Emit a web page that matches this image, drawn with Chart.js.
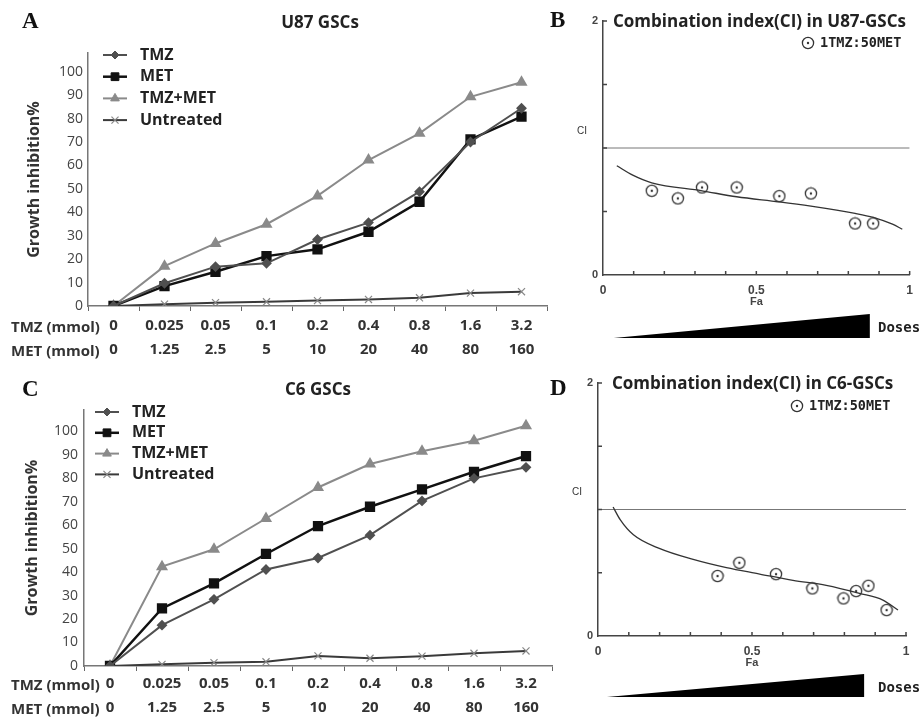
<!DOCTYPE html>
<html>
<head>
<meta charset="utf-8">
<script src="https://cdn.jsdelivr.net/npm/chart.js@4.4.0/dist/chart.umd.min.js"></script>
<style>
  body { margin: 0; background: #fff; }
  #wrap { position: relative; width: 921px; height: 720px; overflow: hidden; background: #fff; }
  canvas { position: absolute; }
  .t { position: absolute; white-space: nowrap; height: 24px; line-height: 24px; color: #222; font-family: "Open Sans", sans-serif; }
  .letter { font-family: "Liberation Serif", serif; font-weight: bold; font-size: 23px; color: #111; }
  .title { font-weight: bold; font-size: 17px; }
  .row { font-weight: bold; font-size: 15px; color: #333; }
  .ci { font-family: "Liberation Sans", sans-serif; font-size: 10px; color: #333; }
  .doses { font-family: "DejaVu Sans Mono", monospace; font-weight: bold; font-size: 14px; }
</style>
</head>
<body>
<div id="wrap">
  <canvas id="chartA" width="560" height="360" style="left:0;top:0"></canvas>
  <canvas id="chartB" width="361" height="360" style="left:560px;top:0"></canvas>
  <canvas id="chartC" width="560" height="360" style="left:0;top:360px"></canvas>
  <canvas id="chartD" width="361" height="360" style="left:560px;top:360px"></canvas>

  <div class="t letter" style="left:22px;top:9px">A</div>
  <div class="t title" style="left:320px;top:10px;transform:translateX(-50%)">U87 GSCs</div>
  <div class="t row" style="left:11px;top:314px">TMZ (mmol)</div>
  <div class="t row" style="left:11px;top:338px">MET (mmol)</div>

  <div class="t letter" style="left:550px;top:8px">B</div>
  <div class="t title" style="left:613px;top:9px">Combination index(CI) in U87-GSCs</div>
  <div class="t ci" style="left:577px;top:119px">CI</div>
  <div class="t doses" style="left:878px;top:315px">Doses</div>

  <div class="t letter" style="left:22px;top:377px">C</div>
  <div class="t title" style="left:318px;top:377px;transform:translateX(-50%)">C6 GSCs</div>
  <div class="t row" style="left:11px;top:672px">TMZ (mmol)</div>
  <div class="t row" style="left:11px;top:696px">MET (mmol)</div>

  <div class="t letter" style="left:550px;top:376px">D</div>
  <div class="t title" style="left:612px;top:371px">Combination index(CI) in C6-GSCs</div>
  <div class="t ci" style="left:572px;top:480px">CI</div>
  <div class="t doses" style="left:878px;top:675px">Doses</div>
</div>

<script>
// doses (x categories)
const tmzDose = ['0', '0.025', '0.05', '0.1', '0.2', '0.4', '0.8', '1.6', '3.2'];
const metDose = ['0', '1.25', '2.5', '5', '10', '20', '40', '80', '160'];

// U87 growth inhibition %
const u87Tmz = [0, 9.7, 16.8, 18.2, 28.4, 35.6, 48.8, 70, 84.4];
const u87Met = [0, 8.5, 14.6, 21.3, 24.2, 31.7, 44.5, 71.1, 80.8];
const u87Combo = [0, 17, 26.7, 34.9, 47, 62.3, 73.7, 89.3, 95.5];
const u87Untreated = [0, 0.8, 1.4, 1.8, 2.3, 2.8, 3.5, 5.5, 6.1];

// C6 growth inhibition %
const c6Tmz = [0, 17.4, 28.4, 41.1, 46, 55.7, 70.3, 79.9, 84.6];
const c6Met = [0, 24.5, 35.2, 47.7, 59.6, 67.8, 75.2, 82.7, 89.4];
const c6Combo = [0, 42.3, 49.7, 62.8, 76, 86, 91.4, 95.9, 102.3];
const c6Untreated = [0, 0.7, 1.4, 1.8, 4.3, 3.3, 4.2, 5.4, 6.4];

// combination index, U87
const u87Fa = [0.159, 0.244, 0.323, 0.436, 0.575, 0.678, 0.822, 0.881];
const u87CI = [0.663, 0.603, 0.689, 0.689, 0.621, 0.642, 0.406, 0.406];
const u87CurveFa = [0.045, 0.097, 0.159, 0.323, 0.436, 0.575, 0.678, 0.822, 0.881, 0.944, 0.976];
const u87CurveCI = [0.86, 0.786, 0.726, 0.663, 0.616, 0.576, 0.542, 0.485, 0.454, 0.40, 0.36];

// combination index, C6
const c6Fa = [0.388, 0.459, 0.578, 0.696, 0.797, 0.838, 0.878, 0.937];
const c6CI = [0.474, 0.579, 0.489, 0.376, 0.297, 0.355, 0.397, 0.205];
const c6CurveFa = [0.049, 0.072, 0.115, 0.201, 0.309, 0.417, 0.525, 0.633, 0.741, 0.849, 0.925, 0.974];
const c6CurveCI = [1.02, 0.92, 0.80, 0.69, 0.605, 0.54, 0.49, 0.44, 0.40, 0.337, 0.284, 0.205];

// CI = 1 reference
const refFa = [0, 1];
const refCI = [1, 1];

Chart.defaults.font.family = '"Open Sans"';
Chart.defaults.color = '#333';

const toXY = (xs, ys) => xs.map((x, i) => ({ x, y: ys[i] }));

// small ring with a dot, used as CI marker
function ringDot() {
    const c = document.createElement('canvas');
    c.width = 14; c.height = 14;
    const g = c.getContext('2d');
    g.strokeStyle = '#333';
    g.lineWidth = 1.3;
    g.beginPath(); g.arc(7, 7, 5.6, 0, Math.PI * 2); g.stroke();
    g.fillStyle = '#333';
    g.beginPath(); g.arc(7, 7, 1.2, 0, Math.PI * 2); g.fill();
    return c;
}
const ring = ringDot();

// legend drawn inside the plot area
const insideLegend = {
    id: 'insideLegend',
    afterDraw(chart, args, opts) {
        if (!opts || opts.x === undefined) return;
        const { ctx, chartArea } = chart;
        ctx.save();
        ctx.font = opts.font;
        ctx.textBaseline = 'middle';
        let row = 0;
        chart.data.datasets.forEach(ds => {
            if (!ds.label) return;
            const x = chartArea.left + opts.x;
            const y = chartArea.top + opts.y + row * (opts.rowHeight || 0);
            if (opts.line) {
                ctx.strokeStyle = ds.borderColor;
                ctx.lineWidth = ds.borderWidth;
                ctx.beginPath();
                ctx.moveTo(x, y);
                ctx.lineTo(x + opts.line, y);
                ctx.stroke();
            }
            ctx.fillStyle = ds.pointBackgroundColor || ds.borderColor;
            ctx.strokeStyle = ds.pointBorderColor || ds.borderColor;
            ctx.lineWidth = ds.pointBorderWidth || 1;
            Chart.helpers.drawPoint(ctx, {
                pointStyle: ds.pointStyle,
                radius: ds.pointRadius,
                borderWidth: ds.pointBorderWidth || 1,
                rotation: 0
            }, x + (opts.line || 0) / 2, y);
            ctx.fillStyle = opts.color || '#222';
            ctx.fillText(ds.label, x + opts.textX, y);
            row++;
        });
        ctx.restore();
    }
};

// inner tick marks and the dose wedge for the CI plots
const ciExtras = {
    id: 'ciExtras',
    afterDraw(chart, args, opts) {
        if (!opts || !opts.wedge) return;
        const { ctx, chartArea, scales } = chart;
        ctx.save();
        ctx.strokeStyle = '#444';
        ctx.lineWidth = 1.5;
        ctx.beginPath();
        for (let i = 1; i <= 10; i++) {
            const px = scales.x.getPixelForValue(i / 10);
            ctx.moveTo(px, chartArea.bottom);
            ctx.lineTo(px, chartArea.bottom - 4);
        }
        for (let i = 1; i <= 4; i++) {
            const py = scales.y.getPixelForValue(i * 0.5);
            ctx.moveTo(chartArea.left, py);
            ctx.lineTo(chartArea.left + 4, py);
        }
        ctx.stroke();

        const w = opts.wedge;
        const x0 = scales.x.getPixelForValue(w.from);
        const x1 = scales.x.getPixelForValue(w.to);
        ctx.fillStyle = '#000';
        ctx.beginPath();
        ctx.moveTo(x0, chartArea.bottom + w.bottom);
        ctx.lineTo(x1, chartArea.bottom + w.bottom);
        ctx.lineTo(x1, chartArea.bottom + w.top);
        ctx.closePath();
        ctx.fill();
        ctx.restore();
    }
};

function growthChart(id, series, yMax, box) {
    const [tmz, met, combo, untreated] = series;
    return new Chart(document.getElementById(id), {
        type: 'line',
        data: {
            labels: tmzDose.map((t, i) => [t, metDose[i]]),
            datasets: [
                {
                    label: 'TMZ', data: tmz,
                    borderColor: '#505050', borderWidth: 2,
                    pointStyle: 'rectRot', pointRadius: 4, pointBackgroundColor: '#505050'
                },
                {
                    label: 'MET', data: met,
                    borderColor: '#111', borderWidth: 2.5,
                    pointStyle: 'rect', pointRadius: 5.5, pointBackgroundColor: '#111'
                },
                {
                    label: 'TMZ+MET', data: combo,
                    borderColor: '#8a8a8a', borderWidth: 2,
                    pointStyle: 'triangle', pointRadius: 5, pointBackgroundColor: '#8a8a8a'
                },
                {
                    label: 'Untreated', data: untreated,
                    borderColor: '#3a3a3a', borderWidth: 2,
                    pointStyle: 'crossRot', pointRadius: 5,
                    pointBorderColor: '#888', pointBorderWidth: 1.2
                }
            ]
        },
        options: {
            responsive: false,
            animation: false,
            devicePixelRatio: 1,
            layout: { padding: { left: 0, right: box.right, top: box.top, bottom: 0 } },
            plugins: {
                legend: { display: false },
                tooltip: { enabled: false },
                insideLegend: {
                    x: box.legendX, y: box.legendY, rowHeight: box.rowHeight,
                    line: 24, textX: 37, font: 'bold 16px "Open Sans"', color: '#222'
                }
            },
            scales: {
                x: {
                    offset: true,
                    afterFit: s => { s.height = 54; },
                    grid: { drawOnChartArea: false, drawTicks: true, tickLength: 5, color: '#666', offset: true },
                    border: { color: '#777', width: 1.5 },
                    ticks: {
                        autoSkip: false, maxRotation: 0, padding: box.xPad, color: '#333',
                        font: { size: 15, weight: 'bold', lineHeight: 1.6 }
                    }
                },
                y: {
                    min: 0, max: yMax,
                    afterFit: s => { s.width = box.left; },
                    grid: { drawOnChartArea: false, drawTicks: false },
                    border: { color: '#777', width: 1.5 },
                    ticks: {
                        stepSize: 10, padding: box.yPad, color: '#444',
                        font: { size: 14 },
                        callback: v => (v > 100 ? '' : v)
                    },
                    title: {
                        display: true, text: 'Growth inhibition%', color: '#333',
                        font: { size: 16, weight: 'bold' },
                        padding: { top: box.titlePad, bottom: 0 }
                    }
                }
            }
        },
        plugins: [insideLegend]
    });
}

function ciChart(id, pts, curve, box) {
    return new Chart(document.getElementById(id), {
        type: 'scatter',
        data: {
            datasets: [
                {
                    label: '1TMZ:50MET', data: pts,
                    pointStyle: ring, pointRadius: 6, borderColor: '#333'
                },
                {
                    data: curve, showLine: true, pointRadius: 0,
                    borderColor: '#333', borderWidth: 1.3, cubicInterpolationMode: 'monotone'
                },
                {
                    data: toXY(refFa, refCI), showLine: true, pointRadius: 0,
                    borderColor: '#777', borderWidth: 1
                }
            ]
        },
        options: {
            responsive: false,
            animation: false,
            devicePixelRatio: 1,
            layout: { padding: { left: 0, right: box.right, top: box.top, bottom: box.bottom } },
            plugins: {
                legend: { display: false },
                tooltip: { enabled: false },
                insideLegend: {
                    x: box.legendX, y: box.legendY, line: 0, textX: 12,
                    font: 'bold 13.5px "DejaVu Sans Mono"', color: '#222'
                },
                ciExtras: { wedge: box.wedge }
            },
            scales: {
                x: {
                    type: 'linear', min: 0, max: 1,
                    afterFit: s => { s.height = 34; },
                    grid: { display: false, drawTicks: false },
                    border: { color: '#444', width: 1.5 },
                    ticks: {
                        stepSize: 0.5, padding: 8, color: '#444',
                        font: { family: 'Liberation Sans', size: 12, weight: 'bold' },
                        callback: v => String(v)
                    },
                    title: {
                        display: true, text: 'Fa', color: '#444',
                        font: { family: 'Liberation Sans', size: 11, weight: 'bold' },
                        padding: 0
                    }
                },
                y: {
                    min: 0, max: 2,
                    afterFit: s => { s.width = box.left; },
                    grid: { display: false, drawTicks: false },
                    border: { color: '#444', width: 1.5 },
                    ticks: {
                        stepSize: 2, padding: 5, color: '#444',
                        font: { family: 'Liberation Sans', size: 11, weight: 'bold' }
                    }
                }
            }
        },
        plugins: [insideLegend, ciExtras]
    });
}

growthChart('chartA', [u87Tmz, u87Met, u87Combo, u87Untreated], 108,
    { left: 88, right: 13, top: 53, xPad: 3, yPad: 5, titlePad: 25, legendX: 15, legendY: 2, rowHeight: 21.7 });

growthChart('chartC', [c6Tmz, c6Met, c6Combo, c6Untreated], 109,
    { left: 84, right: 5, top: 50, xPad: 1, yPad: 6, titlePad: 23, legendX: 11, legendY: 2, rowHeight: 20.8 });

ciChart('chartB', toXY(u87Fa, u87CI), toXY(u87CurveFa, u87CurveCI),
    { left: 43, right: 10, top: 21, bottom: 51, legendX: 205, legendY: 22,
      wedge: { from: 0.035, to: 0.87, top: 39, bottom: 63 } });

ciChart('chartD', toXY(c6Fa, c6CI), toXY(c6CurveFa, c6CurveCI),
    { left: 38, right: 15, top: 23, bottom: 50, legendX: 199, legendY: 23,
      wedge: { from: 0.029, to: 0.864, top: 38, bottom: 61 } });
</script>
</body>
</html>
